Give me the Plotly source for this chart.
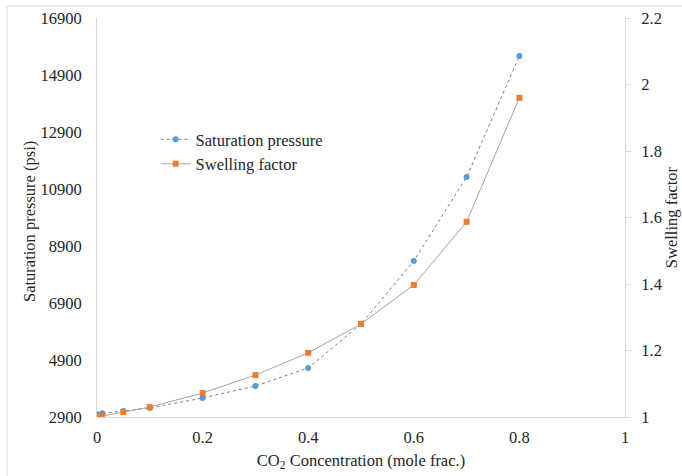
import plotly.graph_objects as go

co2 = [0.0, 0.01, 0.05, 0.1, 0.2, 0.3, 0.4, 0.5, 0.6, 0.7, 0.8]
sat_pressure = [3000, 3030, 3110, 3215, 3567, 3988, 4620, 6163, 8374, 11320, 15567]
swelling = [1.0, 1.003, 1.015, 1.030, 1.072, 1.126, 1.193, 1.280, 1.397, 1.587, 1.960]

font_family = "Liberation Serif"
fs = 16.5
txt = "#262626"
axis_col = "#d9d9d9"

fig = go.Figure()
fig.add_trace(go.Scatter(
    x=co2, y=sat_pressure, name="Saturation pressure", mode="lines+markers",
    line=dict(color="#7f7f7f", width=1, dash="dot"),
    marker=dict(color="#5b9bd5", size=6, symbol="circle"),
    yaxis="y"))
fig.add_trace(go.Scatter(
    x=co2, y=swelling, name="Swelling factor", mode="lines+markers",
    line=dict(color="#a5a5a5", width=1),
    marker=dict(color="#ed7d31", size=6, symbol="square"),
    yaxis="y2"))

fig.update_layout(
    width=682, height=476,
    margin=dict(l=97, r=57, t=18, b=59, autoexpand=False),
    paper_bgcolor="white", plot_bgcolor="white",
    font=dict(family=font_family, size=fs, color=txt),
    showlegend=True,
    legend=dict(x=0.111, y=0.739, xanchor="left", yanchor="top",
                bgcolor="rgba(0,0,0,0)", font=dict(family=font_family, size=fs, color=txt),
                tracegroupgap=0, itemwidth=30),
    xaxis=dict(range=[0, 1], dtick=0.2, tick0=0, showgrid=False, zeroline=False,
               showline=True, linecolor=axis_col, linewidth=1, ticks="",
               ticklabelstandoff=5, automargin=False,
               title=dict(text="CO<sub>2</sub> Concentration (mole frac.)", standoff=8,
                          font=dict(family=font_family, size=fs, color=txt)),
               tickfont=dict(family=font_family, size=fs, color=txt)),
    yaxis=dict(range=[2900, 16900], dtick=2000, tick0=2900, tickformat="d",
               showgrid=False, zeroline=False, automargin=False,
               showline=True, linecolor=axis_col, linewidth=1, ticks="",
               ticklabelstandoff=11,
               tickfont=dict(family=font_family, size=fs, color=txt)),
    yaxis2=dict(range=[1, 2.2], dtick=0.2, tick0=1, overlaying="y", side="right",
                showgrid=False, zeroline=False, showline=True, linecolor=axis_col,
                linewidth=1, ticks="outside", ticklen=5, tickcolor=axis_col,
                ticklabelstandoff=7, automargin=False,
                title=dict(text="Swelling factor", standoff=4,
                           font=dict(family=font_family, size=fs, color=txt)),
                tickfont=dict(family=font_family, size=fs, color=txt)),
)

fig.add_annotation(text="Saturation pressure (psi)", xref="paper", yref="paper",
                   x=(29.5 - 97) / 528, y=0.49, textangle=-90, showarrow=False,
                   xanchor="center", yanchor="middle",
                   font=dict(family=font_family, size=fs, color=txt))

fig.add_shape(type="rect", xref="paper", yref="paper",
              x0=(7 - 97) / 528, x1=(700 - 97) / 528,
              y0=(417 - 500) / 399, y1=(417 - 6) / 399,
              line=dict(color=axis_col, width=1), fillcolor="rgba(0,0,0,0)", layer="above")

fig.write_html("out.html")
